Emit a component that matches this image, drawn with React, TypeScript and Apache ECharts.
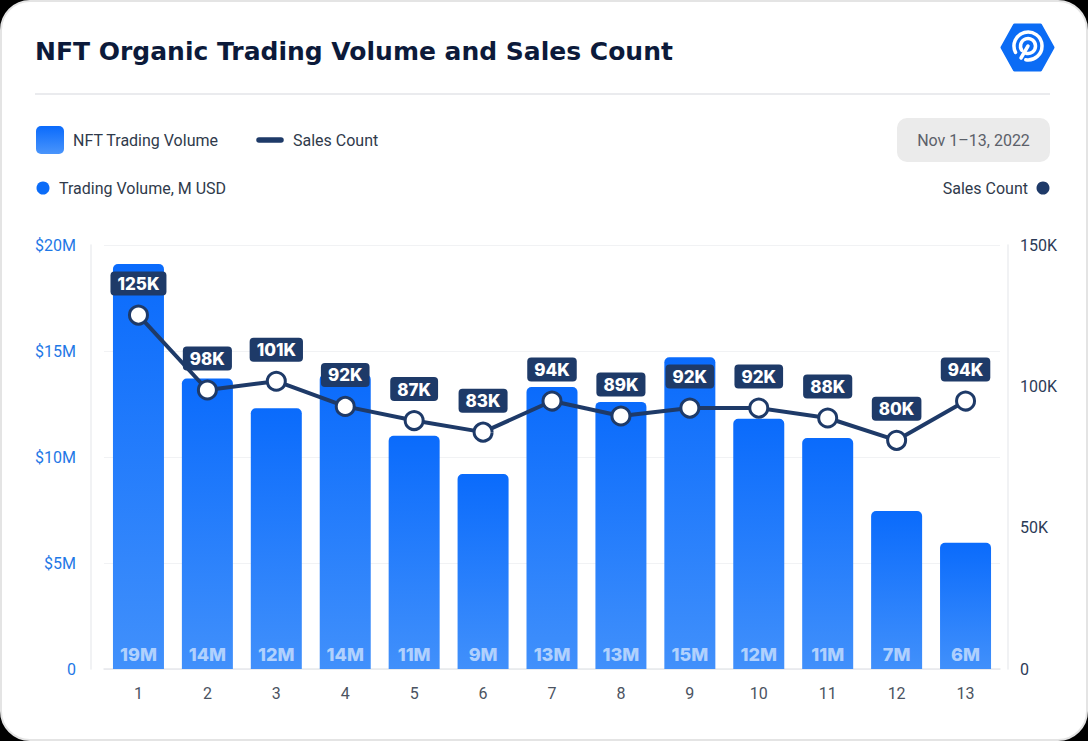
import React, { useEffect, useRef } from "react";
import * as echarts from "echarts";

const days = ["1", "2", "3", "4", "5", "6", "7", "8", "9", "10", "11", "12", "13"];
const volumeM = [19.1, 13.7, 12.3, 13.9, 11.0, 9.2, 13.3, 12.6, 14.7, 11.8, 10.9, 7.45, 5.95];
const salesCount = [125200, 98700, 101800, 92900, 87900, 83800, 94800, 89500, 92300, 92300, 88800, 80900, 94800];
const leftTicks = { min: 0, max: 20, interval: 5 };
const rightTicks = { min: 0, max: 150000, interval: 50000 };

const NAVY = "#1e3a68";
const BLUE = "#0b6cf8";
const TEXT = "#2f3a4b";

export default function App() {
  const ref = useRef<HTMLDivElement>(null);

  useEffect(() => {
    if (!ref.current) return;
    const chart = echarts.init(ref.current, null, { renderer: "svg" });
    const barGrad = new echarts.graphic.LinearGradient(0, 0, 0, 1, [
      { offset: 0, color: "#0a6bfc" },
      { offset: 1, color: "#4190fb" },
    ]);
    const legendGrad = new echarts.graphic.LinearGradient(0, 0, 0, 1, [
      { offset: 0, color: "#0a6bfc" },
      { offset: 1, color: "#4a95fb" },
    ]);
    const option: any = {
      animation: false,
      backgroundColor: "transparent",
      textStyle: { fontFamily: "Roboto" },
      grid: { left: 104, right: 88, top: 245, bottom: 72 },
      xAxis: {
        type: "category",
        data: days,
        axisLine: { show: true, lineStyle: { color: "#e6e8eb", width: 1.5 } },
        axisTick: { show: false },
        axisLabel: { color: "#4b5361", fontSize: 16, margin: 16, fontFamily: "Roboto" },
      },
      yAxis: [
        {
          type: "value",
          min: leftTicks.min,
          max: leftTicks.max,
          interval: leftTicks.interval,
          offset: 13,
          axisLine: { show: true, lineStyle: { color: "#eceef0", width: 1.5 } },
          axisTick: { show: false },
          splitLine: { lineStyle: { color: "#f1f2f4", width: 1 } },
          axisLabel: {
            color: "#1f78e6",
            fontSize: 16,
            margin: 15,
            fontFamily: "Roboto",
            formatter: (v: number) => (v === 0 ? "0" : "$" + v + "M"),
          },
        },
        {
          type: "value",
          min: rightTicks.min,
          max: rightTicks.max,
          interval: rightTicks.interval,
          offset: 8,
          position: "right",
          axisLine: { show: true, lineStyle: { color: "#eceef0", width: 1.5 } },
          axisTick: { show: false },
          splitLine: { show: false },
          axisLabel: {
            color: "#2c3b57",
            fontSize: 16,
            margin: 12,
            fontFamily: "Roboto",
            formatter: (v: number) => (v === 0 ? "0" : v / 1000 + "K"),
          },
        },
      ],
      series: [
        {
          name: "NFT Trading Volume",
          type: "bar",
          data: volumeM,
          yAxisIndex: 0,
          barWidth: 51,
          itemStyle: { color: barGrad, borderRadius: [5, 5, 0, 0] },
          label: {
            show: true,
            position: "insideBottom",
            distance: 6,
            color: "rgba(255,255,255,0.6)",
            fontSize: 18,
            fontWeight: 800,
            fontFamily: "Inter",
            formatter: (p: any) => Math.round(p.value) + "M",
          },
          z: 2,
        },
        {
          name: "Sales Count",
          type: "line",
          data: salesCount,
          yAxisIndex: 1,
          symbol: "circle",
          symbolSize: 18,
          lineStyle: { color: NAVY, width: 4 },
          itemStyle: { color: "#ffffff", borderColor: NAVY, borderWidth: 3 },
          label: {
            show: true,
            position: "top",
            distance: 9,
            color: "#ffffff",
            fontSize: 17,
            fontWeight: 800,
            fontFamily: "Inter",
            backgroundColor: NAVY,
            borderRadius: 4,
            padding: [4, 7, 3, 7],
            formatter: (p: any) => Math.floor(p.value / 1000) + "K",
          },
          z: 5,
        },
      ],
      graphic: [
        {
          type: "text",
          x: 35,
          y: 51,
          style: {
            text: "NFT Organic Trading Volume and Sales Count",
            fill: "#0c1a3a",
            font: "bold 25px 'DejaVu Sans'",
            verticalAlign: "middle",
          },
        },
        {
          type: "line",
          shape: { x1: 35, y1: 94, x2: 1050, y2: 94 },
          style: { stroke: "#e3e5e8", lineWidth: 1.5 },
        },
        // logo
        {
          type: "polygon",
          shape: {
            points: [
              [1002, 47.5],
              [1014.5, 25],
              [1040.5, 25],
              [1053, 47.5],
              [1040.5, 70],
              [1014.5, 70],
            ],
          },
          style: { fill: "#0b6cf5", lineJoin: "round", stroke: "#0b6cf5", lineWidth: 3 },
        },
        {
          type: "arc",
          shape: { cx: 1028, cy: 46, r: 14, startAngle: Math.PI * 0.85, endAngle: Math.PI * 0.55 },
          style: { stroke: "#ffffff", lineWidth: 3.5, fill: "none", lineCap: "round" },
        },
        {
          type: "arc",
          shape: { cx: 1028, cy: 46, r: 7.5, startAngle: Math.PI * 0.8, endAngle: Math.PI * 0.6 },
          style: { stroke: "#ffffff", lineWidth: 3.5, fill: "none", lineCap: "round" },
        },
        {
          type: "line",
          shape: { x1: 1028, y1: 46, x2: 1021, y2: 58 },
          style: { stroke: "#ffffff", lineWidth: 3.5, lineCap: "round" },
        },
        // legend row
        {
          type: "rect",
          shape: { x: 36, y: 126, width: 28, height: 28, r: 5 },
          style: { fill: legendGrad },
        },
        {
          type: "text",
          x: 73,
          y: 140,
          style: { text: "NFT Trading Volume", fill: TEXT, font: "16px Roboto", verticalAlign: "middle" },
        },
        {
          type: "line",
          shape: { x1: 259, y1: 140, x2: 281, y2: 140 },
          style: { stroke: NAVY, lineWidth: 5.5, lineCap: "round" },
        },
        {
          type: "text",
          x: 293,
          y: 140,
          style: { text: "Sales Count", fill: TEXT, font: "16px Roboto", verticalAlign: "middle" },
        },
        {
          type: "rect",
          shape: { x: 897, y: 118, width: 153, height: 44, r: 10 },
          style: { fill: "#ebebeb" },
        },
        {
          type: "text",
          x: 973.5,
          y: 140,
          style: {
            text: "Nov 1\u201313, 2022",
            fill: "#5b6069",
            font: "16px Roboto",
            align: "center",
            verticalAlign: "middle",
          },
        },
        // axis titles
        {
          type: "circle",
          shape: { cx: 43, cy: 188, r: 6.5 },
          style: { fill: BLUE },
        },
        {
          type: "text",
          x: 59,
          y: 188,
          style: { text: "Trading Volume, M USD", fill: TEXT, font: "16px Roboto", verticalAlign: "middle" },
        },
        {
          type: "text",
          x: 1028,
          y: 188,
          style: {
            text: "Sales Count",
            fill: TEXT,
            font: "16px Roboto",
            align: "right",
            verticalAlign: "middle",
          },
        },
        {
          type: "circle",
          shape: { cx: 1043, cy: 188, r: 6.5 },
          style: { fill: NAVY },
        },
      ],
    };
    chart.setOption(option);
    return () => chart.dispose();
  }, []);

  return (
    <div
      style={{
        position: "fixed",
        left: 0,
        top: 0,
        width: 1088,
        height: 741,
        background: "#000",
      }}
    >
      <div
        style={{
          position: "absolute",
          left: 0,
          top: 0,
          width: 1088,
          height: 741,
          boxSizing: "border-box",
          background: "#ffffff",
          border: "2px solid #e4e4e4",
          borderRadius: 30,
        }}
      />
      <div ref={ref} style={{ position: "absolute", left: 0, top: 0, width: 1088, height: 741 }} />
    </div>
  );
}
